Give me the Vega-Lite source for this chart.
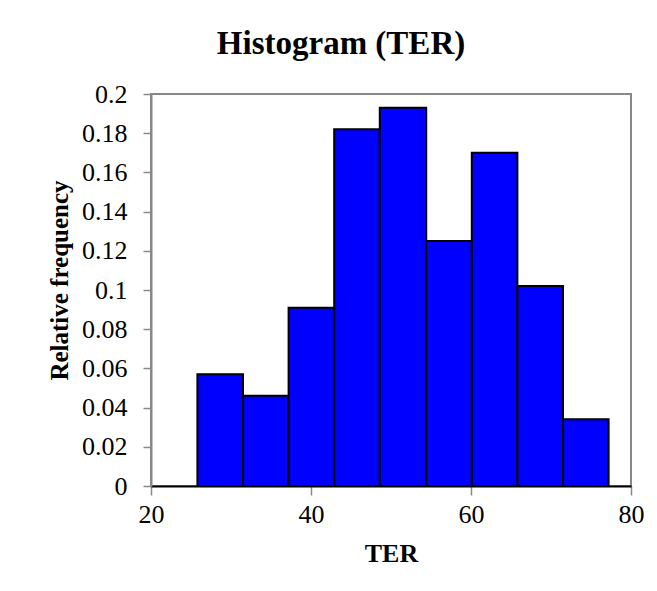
{
  "$schema": "https://vega.github.io/schema/vega-lite/v6.json",
  "autosize": "none",
  "width": 480,
  "height": 392,
  "padding": {"left": 151, "top": 94, "right": 26, "bottom": 105},
  "background": "white",
  "title": {
    "text": "Histogram (TER)",
    "font": "Liberation Serif",
    "fontSize": 33,
    "fontWeight": "bold",
    "color": "black",
    "anchor": "middle",
    "frame": "group",
    "dx": -50,
    "offset": 20
  },
  "data": {
    "values": [
      {"bin_start": 25.8, "bin_end": 31.5, "freq": 0.057},
      {"bin_start": 31.5, "bin_end": 37.2, "freq": 0.046},
      {"bin_start": 37.2, "bin_end": 42.9, "freq": 0.091},
      {"bin_start": 42.9, "bin_end": 48.6, "freq": 0.182},
      {"bin_start": 48.6, "bin_end": 54.4, "freq": 0.193},
      {"bin_start": 54.4, "bin_end": 60.1, "freq": 0.125},
      {"bin_start": 60.1, "bin_end": 65.8, "freq": 0.170},
      {"bin_start": 65.8, "bin_end": 71.5, "freq": 0.102},
      {"bin_start": 71.5, "bin_end": 77.2, "freq": 0.034}
    ]
  },
  "mark": {"type": "rect", "fill": "#0000FF", "stroke": "black", "strokeWidth": 2},
  "encoding": {
    "x": {
      "field": "bin_start",
      "type": "quantitative",
      "scale": {"domain": [20, 80], "nice": false, "zero": false},
      "axis": {
        "title": "TER",
        "values": [20, 40, 60, 80],
        "grid": false,
        "domainColor": "black",
        "domainWidth": 2,
        "tickColor": "#888888",
        "tickWidth": 1.5,
        "tickSize": 9,
        "labelFont": "Liberation Serif",
        "labelFontSize": 26,
        "labelColor": "black",
        "labelPadding": 6,
        "labelFlush": false,
        "titleFont": "Liberation Serif",
        "titleFontSize": 26,
        "titleFontWeight": "bold",
        "titleColor": "black",
        "titlePadding": 13
      }
    },
    "x2": {"field": "bin_end"},
    "y": {
      "field": "freq",
      "type": "quantitative",
      "scale": {"domain": [0, 0.2], "nice": false},
      "axis": {
        "title": "Relative frequency",
        "values": [0, 0.02, 0.04, 0.06, 0.08, 0.1, 0.12, 0.14, 0.16, 0.18, 0.2],
        "format": "~g",
        "grid": false,
        "domainColor": "#888888",
        "domainWidth": 2,
        "tickColor": "#888888",
        "tickWidth": 1.5,
        "tickSize": 8,
        "labelFont": "Liberation Serif",
        "labelFontSize": 26,
        "labelColor": "black",
        "labelPadding": 16,
        "labelFlush": false,
        "titleFont": "Liberation Serif",
        "titleFontSize": 25,
        "titleFontWeight": "bold",
        "titleColor": "black",
        "titlePadding": 9,
        "titleY": 186
      }
    },
    "y2": {"datum": 0}
  },
  "config": {
    "view": {"stroke": "#888888", "strokeWidth": 2}
  }
}
